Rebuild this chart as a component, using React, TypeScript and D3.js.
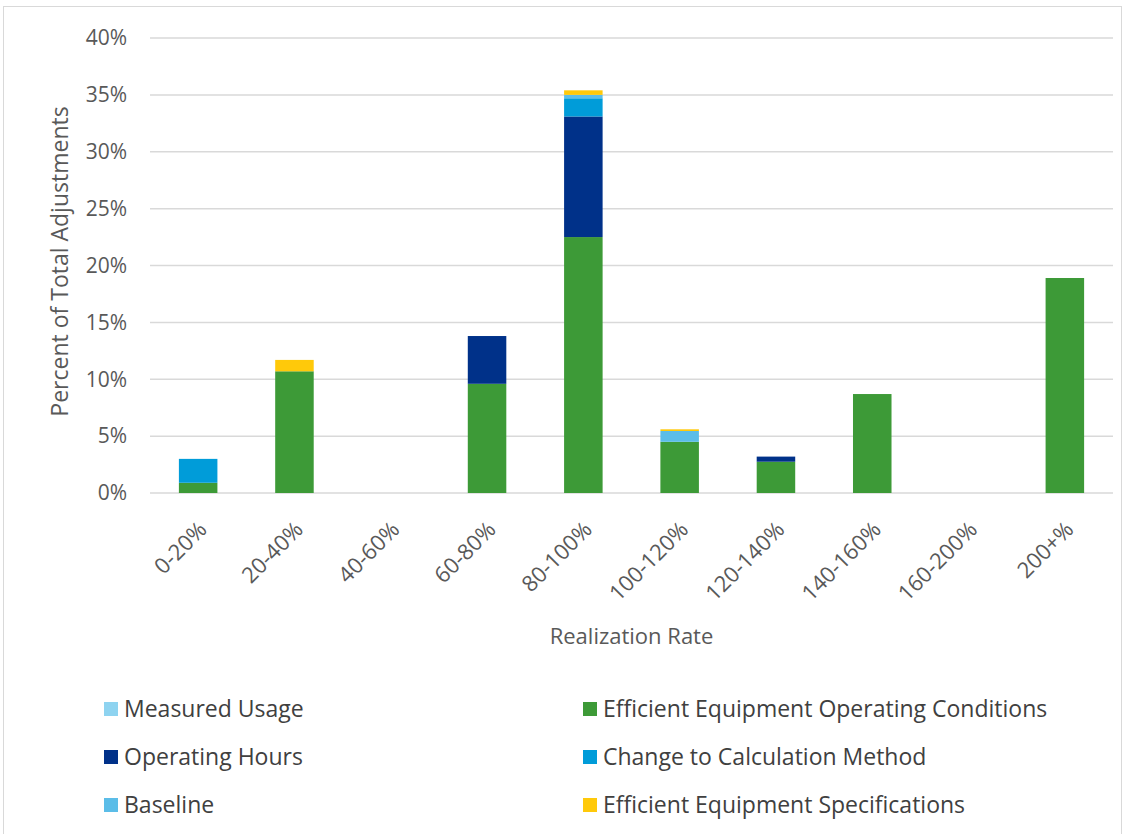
import React, { useRef, useEffect } from 'react';
import * as d3 from 'd3';

const categories = ['0-20%', '20-40%', '40-60%', '60-80%', '80-100%', '100-120%', '120-140%', '140-160%', '160-200%', '200+%'];

// values in percent, per category
const operatingConditions = [0.9, 10.7, 0, 9.6, 22.5, 4.5, 2.75, 8.7, 0, 18.9];
const operatingHours = [0, 0, 0, 4.2, 10.6, 0, 0.45, 0, 0, 0];
const calculationMethod = [2.1, 0, 0, 0, 1.6, 0, 0, 0, 0, 0];
const measuredUsage = [0, 0, 0, 0, 0, 0, 0, 0, 0, 0];
const baseline = [0, 0, 0, 0, 0.3, 0.95, 0, 0, 0, 0];
const specifications = [0, 1.0, 0, 0, 0.4, 0.15, 0, 0, 0, 0];

const yTicks = [0, 5, 10, 15, 20, 25, 30, 35, 40];

const series = [
    { key: 'eeoc', name: 'Efficient Equipment Operating Conditions', values: operatingConditions, color: '#3d9a37' },
    { key: 'hours', name: 'Operating Hours', values: operatingHours, color: '#003189' },
    { key: 'calc', name: 'Change to Calculation Method', values: calculationMethod, color: '#009cd9' },
    { key: 'usage', name: 'Measured Usage', values: measuredUsage, color: '#8ed3f0' },
    { key: 'baseline', name: 'Baseline', values: baseline, color: '#5bbde8' },
    { key: 'spec', name: 'Efficient Equipment Specifications', values: specifications, color: '#ffc90a' },
];

// legend order as in the picture (two columns, row by row)
const legendOrder = ['usage', 'eeoc', 'hours', 'calc', 'baseline', 'spec'];

const width = 1127;
const height = 834;

const Chart = () => {
    const svgRef = useRef<SVGSVGElement | null>(null);

    useEffect(() => {
        const svg = d3.select(svgRef.current);
        svg.selectAll('*').remove();
        const margin = { top: 38, right: 14, bottom: 341, left: 150 };
        const font = "'Open Sans', sans-serif";

        svg.append('rect')
            .attr('x', 3.5).attr('y', 6.5)
            .attr('width', 1118).attr('height', 840)
            .attr('fill', 'white').attr('stroke', '#d9d9d9');

        const x = d3.scaleBand()
            .domain(categories)
            .range([margin.left, width - margin.right])
            .paddingInner(0.6)
            .paddingOuter(0.3);

        const y = d3.scaleLinear()
            .domain([0, 40])
            .range([height - margin.bottom, margin.top]);

        // gridlines
        svg.append('g')
            .selectAll('line')
            .data(yTicks)
            .join('line')
            .attr('x1', margin.left)
            .attr('x2', width - margin.right)
            .attr('y1', d => y(d))
            .attr('y2', d => y(d))
            .attr('stroke', '#d9d9d9')
            .attr('stroke-width', 1.5);

        // y labels
        svg.append('g')
            .selectAll('text')
            .data(yTicks)
            .join('text')
            .attr('x', margin.left - 23)
            .attr('y', d => y(d))
            .attr('dy', '0.35em')
            .attr('text-anchor', 'end')
            .attr('font-family', font)
            .attr('font-size', 21)
            .attr('fill', '#595959')
            .text(d => `${d}%`);

        const table = categories.map((c, i) => {
            const row: any = { cat: c };
            series.forEach(s => { row[s.key] = s.values[i]; });
            return row;
        });
        const stacked = d3.stack().keys(series.map(s => s.key))(table);

        svg.append('g')
            .selectAll('g')
            .data(stacked)
            .join('g')
            .attr('fill', (d, i) => series[i].color)
            .selectAll('rect')
            .data(d => d.filter(p => p[1] - p[0] > 0))
            .join('rect')
            .attr('x', d => x((d.data as any).cat) as number)
            .attr('y', d => y(d[1]))
            .attr('width', x.bandwidth())
            .attr('height', d => y(d[0]) - y(d[1]));

        // x labels
        svg.append('g')
            .selectAll('text')
            .data(categories)
            .join('text')
            .attr('transform', d => `translate(${(x(d) as number) + x.bandwidth() / 2 + 10},${y(0) + 38}) rotate(-45)`)
            .attr('text-anchor', 'end')
            .attr('font-family', font)
            .attr('font-size', 22)
            .attr('fill', '#595959')
            .text(d => d);

        svg.append('text')
            .attr('x', (margin.left + width - margin.right) / 2)
            .attr('y', 644)
            .attr('text-anchor', 'middle')
            .attr('font-family', font)
            .attr('font-size', 22)
            .attr('fill', '#595959')
            .text('Realization Rate');

        svg.append('text')
            .attr('transform', `translate(68,${y(20) - 4}) rotate(-90)`)
            .attr('text-anchor', 'middle')
            .attr('font-family', font)
            .attr('font-size', 23)
            .attr('fill', '#595959')
            .text('Percent of Total Adjustments');

        // legend
        const legend = svg.append('g')
            .selectAll('g')
            .data(legendOrder.map(k => series.find(s => s.key === k)!))
            .join('g')
            .attr('transform', (d, i) => `translate(${i % 2 === 0 ? 104 : 583},${709 + Math.floor(i / 2) * 48})`);
        legend.append('rect')
            .attr('x', 0).attr('y', -7)
            .attr('width', 14).attr('height', 14)
            .attr('fill', d => d.color);
        legend.append('text')
            .attr('x', 20)
            .attr('dy', '0.35em')
            .attr('font-family', font)
            .attr('font-size', 23)
            .attr('fill', '#404040')
            .text(d => d.name);
    }, []);

    return <svg ref={svgRef} width={width} height={height} style={{ position: 'absolute', left: 0, top: 0 }}></svg>;
};

export default function App() {
    return <Chart />;
}
